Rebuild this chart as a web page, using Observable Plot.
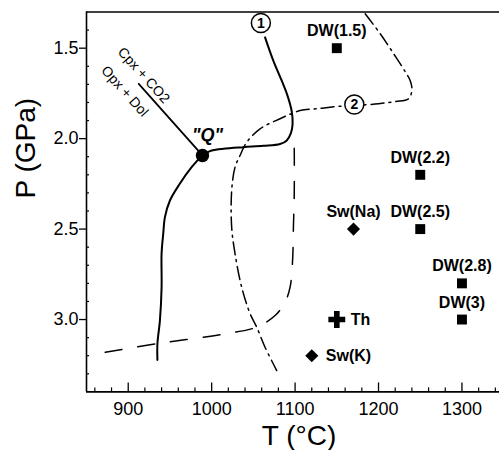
<!DOCTYPE html>
<html><head><meta charset="utf-8">
<script src="https://cdn.jsdelivr.net/npm/d3@7"></script>
<script src="https://cdn.jsdelivr.net/npm/@observablehq/plot@0.6"></script>
<style>
html,body{margin:0;padding:0;background:#fff}
#chart{width:499px;height:450px}
</style>
</head><body><div id="chart"></div>
<script>
// Curve 1 (solid): T (°C), P (GPa)
const curve1T = [1064, 1074, 1084, 1090, 1096, 1097, 1095, 1090, 1082, 1062, 1038, 1014, 998, 989, 976, 962, 950, 944, 942, 940, 940, 938, 935, 935];
const curve1P = [1.44, 1.57, 1.68, 1.75, 1.85, 1.92, 1.97, 2.01, 2.03, 2.04, 2.047, 2.056, 2.069, 2.093, 2.158, 2.248, 2.342, 2.434, 2.524, 2.635, 2.821, 3.005, 3.134, 3.223];
// Curve 2 (dash-dot)
const curve2T = [1184, 1202, 1218, 1232, 1238, 1240, 1236, 1220, 1200, 1171, 1150, 1126, 1106, 1082, 1058, 1042, 1034, 1028, 1024, 1024, 1028, 1036, 1046, 1054, 1064, 1078];
const curve2P = [1.31, 1.42, 1.53, 1.63, 1.68, 1.73, 1.78, 1.795, 1.807, 1.817, 1.822, 1.835, 1.845, 1.89, 1.946, 2.02, 2.093, 2.158, 2.287, 2.49, 2.635, 2.821, 2.967, 3.042, 3.153, 3.282];
// Curve 3 (dashed)
const curve3T = [872.5, 934, 1016, 1054, 1076, 1088, 1094, 1097, 1098, 1099, 1099];
const curve3P = [3.181, 3.134, 3.079, 3.042, 2.978, 2.904, 2.821, 2.674, 2.49, 2.305, 2.044];
// Reaction line Opx + Dol = Cpx + CO2, ending at invariant point "Q"
const reactionT = [912.6, 989];
const reactionP = [1.697, 2.093];
const quadT = [989];
const quadP = [2.093];
// Curve number labels
const curveLabels = ["1", "2"];
const curveLabelT = [1059, 1171];
const curveLabelP = [1.361, 1.811];
// Experimental points
const pointNames = ["DW(1.5)", "DW(2.2)", "DW(2.5)", "DW(2.8)", "DW(3)", "Sw(Na)", "Sw(K)", "Th"];
const pointT = [1150, 1250, 1250, 1300, 1300, 1170, 1120, 1150];
const pointP = [1.5, 2.2, 2.5, 2.8, 3.0, 2.5, 3.2, 3.0];
const pointKind = ["DW", "DW", "DW", "DW", "DW", "Sw", "Sw", "Th"];
// Ticks
const xMajor = [900, 1000, 1100, 1200, 1300];
const xMinor = d3.range(860, 1345, 20).filter(v => v % 100 !== 0);
const yMajor = [1.5, 2.0, 2.5, 3.0];
const yMinor = [1.4, 1.6, 1.7, 1.8, 1.9, 2.1, 2.2, 2.3, 2.4, 2.6, 2.7, 2.8, 2.9, 3.1, 3.2, 3.3];
const xTitle = "T (°C)";
const yTitle = "P (GPa)";

const zip = (T, P) => T.map((t, i) => ({T: t, P: P[i]}));
const c1 = zip(curve1T, curve1P);
const c2 = zip(curve2T, curve2P);
const c3 = zip(curve3T, curve3P);
const reaction = zip(reactionT, reactionP);
const quad = zip(quadT, quadP);
const cl = curveLabels.map((s, i) => ({s, T: curveLabelT[i], P: curveLabelP[i]}));
const pts = pointNames.map((name, i) => ({name, T: pointT[i], P: pointP[i], kind: pointKind[i]}));
const rightLabeled = new Set(["Th", "Sw(K)"]);

const font = "Liberation Sans, Arial, Helvetica, sans-serif";

const plot = Plot.plot({
  width: 499,
  height: 450,
  marginLeft: 86,
  marginRight: 0,
  marginTop: 11.5,
  marginBottom: 58.6,
  style: {fontFamily: font, background: "white", color: "black"},
  x: {domain: [850, 1345]},
  y: {domain: [1.3, 3.4], reverse: true},
  marks: [
    // frame
    Plot.ruleX([850], {strokeWidth: 1.6}),
    Plot.ruleY([3.4], {strokeWidth: 1.6}),
    Plot.ruleY([1.3], {strokeWidth: 1.4}),
    // axes
    Plot.axisX(xMajor, {tickSize: -9, tickPadding: 19.5, fontSize: 18, tickFormat: d => String(d), label: null, strokeWidth: 1.3}),
    Plot.axisX(xMinor, {tickSize: -4, tickPadding: 0, tickFormat: () => "", label: null, strokeWidth: 1.2}),
    Plot.axisY(yMajor, {tickSize: 7, tickPadding: 1, fontSize: 18, tickFormat: d3.format(".1f"), label: null, strokeWidth: 1.3}),
    Plot.axisY(yMinor, {tickSize: -3, tickPadding: 0, tickFormat: () => "", label: null, strokeWidth: 1.2}),
    // axis titles
    Plot.text([xTitle], {text: d => d, frameAnchor: "bottom", lineAnchor: "bottom", dx: 6, dy: 53.1, fontSize: 28}),
    Plot.text([yTitle], {text: d => d, frameAnchor: "left", rotate: -90, dx: -60.5, dy: -3.5, fontSize: 28}),
    // curves
    Plot.line(c3, {x: "T", y: "P", curve: "catmull-rom", strokeWidth: 1.5, strokeDasharray: "17,16"}),
    Plot.line(c2, {x: "T", y: "P", curve: "catmull-rom", strokeWidth: 1.5, strokeDasharray: "13,5,2,5"}),
    Plot.line(c1, {x: "T", y: "P", curve: "catmull-rom", strokeWidth: 2}),
    Plot.line(reaction, {x: "T", y: "P", strokeWidth: 1.8}),
    // reaction labels
    Plot.text([reaction[0]], {x: "T", y: "P", text: () => "Cpx + CO2", rotate: 48, dx: 5, dy: -8.5, fontSize: 14}),
    Plot.text([reaction[0]], {x: "T", y: "P", text: () => "Opx + Dol", rotate: 48, dx: -14, dy: 7.5, fontSize: 14}),
    // invariant point Q
    Plot.dot(quad, {x: "T", y: "P", r: 6.7, fill: "black"}),
    Plot.text(quad, {x: "T", y: "P", text: () => "\"Q\"", dx: 5, dy: -20, fontSize: 18, fontWeight: "bold", fontStyle: "italic"}),
    // curve number labels
    Plot.dot(cl, {x: "T", y: "P", r: 9.5, fill: "white", stroke: "black", strokeWidth: 1.5}),
    Plot.text(cl, {x: "T", y: "P", text: "s", fontSize: 14, fontWeight: "bold"}),
    // experimental points
    Plot.dot(pts.filter(d => d.kind === "DW"), {x: "T", y: "P", symbol: "square", r: 5.6, fill: "black"}),
    Plot.dot(pts.filter(d => d.kind === "Sw"), {x: "T", y: "P", symbol: "diamond2", r: 5.9, fill: "black"}),
    Plot.dot(pts.filter(d => d.kind === "Th"), {x: "T", y: "P", symbol: "cross", r: 7.1, fill: "black"}),
    Plot.text(pts.filter(d => !rightLabeled.has(d.name)), {x: "T", y: "P", text: "name", dy: -17, fontSize: 16, fontWeight: "bold"}),
    Plot.text(pts.filter(d => rightLabeled.has(d.name)), {x: "T", y: "P", text: "name", dx: 14, textAnchor: "start", fontSize: 16, fontWeight: "bold"})
  ]
});
document.getElementById("chart").appendChild(plot);
</script>
</body></html>
